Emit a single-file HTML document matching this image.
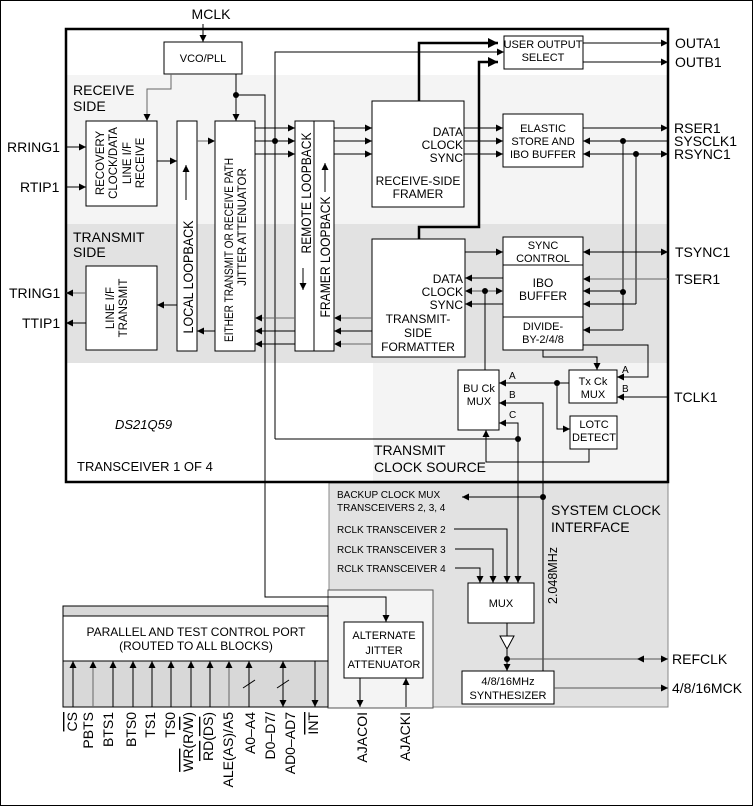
<!DOCTYPE html>
<html><head><meta charset="utf-8"><style>
html,body{margin:0;padding:0;background:#fff}
svg{display:block;font-family:"Liberation Sans",Arial,sans-serif}
</style></head><body>
<svg width="753" height="806" viewBox="0 0 753 806" xmlns="http://www.w3.org/2000/svg">
<defs>
<marker id="a" markerUnits="userSpaceOnUse" markerWidth="8" markerHeight="8" refX="7" refY="3.5" orient="auto-start-reverse"><path d="M0,0 L7,3.5 L0,7 z" fill="#000"/></marker>
<marker id="b" markerUnits="userSpaceOnUse" markerWidth="12" markerHeight="12" refX="10" refY="5" orient="auto"><path d="M0,0 L10,5 L0,10 z" fill="#000"/></marker>
</defs>
<rect x="0.5" y="0.5" width="752" height="805" fill="#fff" stroke="#000"/>
<rect x="67" y="75" width="600" height="149" fill="#f4f4f4"/>
<rect x="67" y="224" width="600" height="139" fill="#e2e2e2"/>
<rect x="373" y="363" width="294" height="118" fill="#f4f4f4"/>
<rect x="329" y="483" width="339" height="224" fill="#e2e2e2" stroke="#888"/>
<rect x="328" y="590" width="105" height="118" fill="#f4f4f4" stroke="#555"/>
<rect x="63" y="606" width="265" height="101" fill="#d8d8d8" stroke="#000"/>
<rect x="63" y="616" width="265" height="45" fill="#fff" stroke="#000"/>
<rect x="66" y="29" width="602" height="453" fill="none" stroke="#000" stroke-width="2.5"/>

<g fill="#fff" stroke="#000" stroke-width="1">
<rect x="164" y="42" width="78" height="32"/>
<rect x="86" y="121" width="71" height="85"/>
<rect x="177" y="121" width="20" height="230"/>
<rect x="215" y="121" width="40" height="230"/>
<rect x="295" y="121" width="19" height="230"/>
<rect x="314" y="121" width="20" height="230"/>
<rect x="372" y="101" width="92" height="106"/>
<rect x="504" y="36" width="79" height="33"/>
<rect x="503" y="114" width="80" height="53"/>
<rect x="372" y="239" width="93" height="118"/>
<rect x="503" y="237" width="80" height="28"/>
<rect x="503" y="265" width="80" height="52"/>
<rect x="503" y="317" width="80" height="33"/>
<rect x="86" y="266" width="71" height="84"/>
<rect x="569" y="370" width="48" height="33"/>
<rect x="458" y="370" width="41" height="60"/>
<rect x="570" y="416" width="47" height="33"/>
<rect x="468" y="583" width="66" height="40"/>
<rect x="462" y="671" width="92" height="33"/>
<rect x="344" y="622" width="79" height="56"/>
</g>

<g stroke="#000" stroke-width="1" fill="none">
<line x1="203" y1="24" x2="203" y2="42" marker-end="url(#a)"/>
<polyline points="171,74 171,89 147,89 147,121" stroke="#666" marker-end="url(#a)"/>
<line x1="236" y1="74" x2="236" y2="121" marker-end="url(#a)"/>
<polyline points="236,95 265,95 265,597 386,597 386,622" marker-end="url(#a)"/>
<polyline points="275,439 275,52 504,52" marker-end="url(#a)"/>
<line x1="275" y1="439" x2="518" y2="439"/>
<line x1="66" y1="147" x2="86" y2="147" marker-end="url(#a)"/>
<line x1="66" y1="187" x2="86" y2="187" marker-end="url(#a)"/>
<line x1="157" y1="161" x2="177" y2="161" marker-end="url(#a)"/>
<line x1="197" y1="141" x2="215" y2="141" stroke="#666" marker-end="url(#a)"/>
<line x1="255" y1="128" x2="295" y2="128" marker-end="url(#a)"/>
<line x1="255" y1="141" x2="295" y2="141" marker-end="url(#a)"/>
<line x1="255" y1="154" x2="295" y2="154" marker-end="url(#a)"/>
<line x1="334" y1="128" x2="372" y2="128" marker-end="url(#a)"/>
<line x1="334" y1="141" x2="372" y2="141" marker-end="url(#a)"/>
<line x1="334" y1="154" x2="372" y2="154" marker-end="url(#a)"/>
<line x1="464" y1="128" x2="503" y2="128" marker-end="url(#a)"/>
<line x1="464" y1="141" x2="503" y2="141" marker-end="url(#a)"/>
<line x1="464" y1="154" x2="503" y2="154" marker-end="url(#a)"/>
<line x1="583" y1="128" x2="668" y2="128" marker-end="url(#a)"/>
<line x1="668" y1="141" x2="583" y2="141" marker-end="url(#a)"/>
<line x1="583" y1="154" x2="668" y2="154" marker-start="url(#a)" marker-end="url(#a)"/>
<line x1="583" y1="43" x2="668" y2="43" marker-end="url(#a)"/>
<line x1="583" y1="62" x2="668" y2="62" marker-end="url(#a)"/>
<line x1="623" y1="141" x2="623" y2="330"/>
<line x1="636" y1="154" x2="636" y2="304"/>
<line x1="465" y1="252" x2="503" y2="252" marker-end="url(#a)"/>
<line x1="583" y1="252" x2="668" y2="252" marker-start="url(#a)" marker-end="url(#a)"/>
<line x1="668" y1="279" x2="583" y2="279" stroke="#666" marker-end="url(#a)"/>
<line x1="503" y1="278" x2="465" y2="278" marker-end="url(#a)"/>
<line x1="465" y1="291" x2="503" y2="291" marker-start="url(#a)" marker-end="url(#a)" stroke="#555"/>
<line x1="503" y1="304" x2="465" y2="304" marker-end="url(#a)"/>
<line x1="623" y1="291" x2="583" y2="291" marker-end="url(#a)"/>
<line x1="636" y1="304" x2="583" y2="304" marker-end="url(#a)"/>
<line x1="623" y1="330" x2="583" y2="330" marker-end="url(#a)"/>
<line x1="485" y1="291" x2="485" y2="370"/>
<line x1="372" y1="318" x2="334" y2="318" stroke="#666" marker-end="url(#a)"/>
<line x1="372" y1="331" x2="334" y2="331" marker-end="url(#a)"/>
<line x1="372" y1="344" x2="334" y2="344" stroke="#666" marker-end="url(#a)"/>
<line x1="295" y1="318" x2="255" y2="318" stroke="#666" marker-end="url(#a)"/>
<line x1="295" y1="331" x2="255" y2="331" marker-end="url(#a)"/>
<line x1="295" y1="344" x2="255" y2="344" marker-end="url(#a)"/>
<line x1="215" y1="331" x2="197" y2="331" marker-end="url(#a)"/>
<line x1="177" y1="305" x2="157" y2="305" marker-end="url(#a)"/>
<line x1="86" y1="293" x2="66" y2="293" stroke="#666" marker-end="url(#a)"/>
<line x1="86" y1="323" x2="66" y2="323" marker-end="url(#a)"/>
<polyline points="543,350 543,357 597,357 597,370" marker-end="url(#a)"/>
<polyline points="583,345 648,345 648,377 617,377" marker-end="url(#a)"/>
<line x1="668" y1="397" x2="617" y2="397" marker-end="url(#a)"/>
<line x1="569" y1="383" x2="499" y2="383" marker-end="url(#a)"/>
<polyline points="557,383 557,429 570,429" marker-end="url(#a)"/>
<polyline points="589,449 589,462 486,462 486,430" marker-end="url(#a)"/>
<polyline points="543,671 543,403 499,403" marker-end="url(#a)"/>
<polyline points="518,583 518,423 499,423" marker-end="url(#a)"/>
<line x1="518" y1="439" x2="518" y2="583" marker-end="url(#a)"/>
<line x1="543" y1="497" x2="462" y2="497" marker-end="url(#a)"/>
<polyline points="454,529 507,529 507,583" marker-end="url(#a)"/>
<polyline points="455,549 493,549 493,583" marker-end="url(#a)"/>
<polyline points="455,568 480,568 480,583" marker-end="url(#a)"/>
<line x1="507" y1="623" x2="507" y2="636"/>
<polygon points="500,636 514,636 507,649" fill="#fff"/>
<line x1="507" y1="649" x2="507" y2="671" marker-end="url(#a)"/>
<line x1="507" y1="659" x2="668" y2="659" stroke="#555" marker-end="url(#a)"/>
<path d="M637,659 l7,-3.5 v7 z" fill="#000" stroke="none"/>
<line x1="554" y1="688" x2="668" y2="688" stroke="#555" marker-end="url(#a)"/>
<line x1="360" y1="678" x2="360" y2="707" marker-end="url(#a)"/>
<line x1="406" y1="707" x2="406" y2="678" marker-end="url(#a)"/>
<g>
<line x1="73" y1="707" x2="73" y2="661" marker-end="url(#a)"/>
<line x1="93" y1="707" x2="93" y2="661" stroke="#666" marker-end="url(#a)"/>
<line x1="113" y1="707" x2="113" y2="661" marker-end="url(#a)"/>
<line x1="133" y1="707" x2="133" y2="661" marker-end="url(#a)"/>
<line x1="152" y1="707" x2="152" y2="661" marker-end="url(#a)"/>
<line x1="171" y1="707" x2="171" y2="661" marker-end="url(#a)"/>
<line x1="191" y1="707" x2="191" y2="661" marker-end="url(#a)"/>
<line x1="210" y1="707" x2="210" y2="661" marker-end="url(#a)"/>
<line x1="229" y1="707" x2="229" y2="661" stroke="#666" marker-end="url(#a)"/>
<line x1="249" y1="707" x2="249" y2="661" marker-end="url(#a)"/>
<line x1="283" y1="707" x2="283" y2="661" marker-start="url(#a)" marker-end="url(#a)"/>
<line x1="315" y1="661" x2="315" y2="707" marker-end="url(#a)"/>
<line x1="243" y1="688" x2="255" y2="680"/>
<line x1="277" y1="688" x2="289" y2="680"/>
</g>
</g>
<g stroke="#000" stroke-width="2.5" fill="none">
<polyline points="419,101 419,43 498,43" marker-end="url(#b)"/>
<polyline points="419,239 419,227 479,227 479,62 498,62" marker-end="url(#b)"/>
</g>
<g fill="#000">
<circle cx="236" cy="95" r="3"/><circle cx="275" cy="141" r="3"/>
<circle cx="623" cy="141" r="3"/><circle cx="636" cy="154" r="3"/>
<circle cx="623" cy="292" r="3"/><circle cx="485" cy="291" r="3"/>
<circle cx="557" cy="383" r="3"/><circle cx="518" cy="439" r="3"/>
<circle cx="543" cy="497" r="3"/><circle cx="507" cy="659" r="3"/>
</g>
<g stroke="#000" fill="none">
<line x1="186" y1="200" x2="186" y2="165" marker-end="url(#a)"/>
<line x1="303" y1="268" x2="303" y2="290" marker-end="url(#a)"/>
<line x1="325" y1="192" x2="325" y2="163" marker-end="url(#a)"/>
</g>

<g font-size="14" fill="#000">
<text x="211" y="19" text-anchor="middle">MCLK</text>
<text x="73" y="95">RECEIVE</text><text x="73" y="111">SIDE</text>
<text x="73" y="242">TRANSMIT</text><text x="73" y="257">SIDE</text>
<text x="7" y="152">RRING1</text><text x="20" y="192">RTIP1</text>
<text x="9" y="298">TRING1</text><text x="22" y="328">TTIP1</text>
<text x="675" y="48">OUTA1</text><text x="675" y="67">OUTB1</text>
<text x="674" y="133">RSER1</text><text x="674" y="146">SYSCLK1</text><text x="674" y="159">RSYNC1</text>
<text x="675" y="257">TSYNC1</text><text x="675" y="284">TSER1</text>
<text x="674" y="402">TCLK1</text>
<text x="374" y="455">TRANSMIT</text><text x="374" y="472">CLOCK SOURCE</text>
<text x="551" y="515">SYSTEM CLOCK</text><text x="551" y="532">INTERFACE</text>
<text x="672" y="664">REFCLK</text><text x="672" y="693">4/8/16MCK</text>
</g>
<g font-size="13" fill="#000">
<text x="115" y="429" font-style="italic">DS21Q59</text>
<text x="77" y="471">TRANSCEIVER 1 OF 4</text>
</g>
<g font-size="11" fill="#000" text-anchor="middle">
<text x="203" y="62">VCO/PLL</text>
<text x="543" y="48">USER OUTPUT</text><text x="543" y="61">SELECT</text>
<text x="543" y="132">ELASTIC</text><text x="543" y="145">STORE AND</text><text x="543" y="158">IBO BUFFER</text>
<text x="543" y="249">SYNC</text><text x="543" y="262">CONTROL</text>
<text x="543" y="287" font-size="12">IBO</text><text x="543" y="300" font-size="12">BUFFER</text>
<text x="543" y="330">DIVIDE-</text><text x="543" y="343">BY-2/4/8</text>
<text x="593" y="385">Tx Ck</text><text x="593" y="398">MUX</text>
<text x="479" y="392">BU Ck</text><text x="479" y="405">MUX</text>
<text x="594" y="428">LOTC</text><text x="594" y="441">DETECT</text>
<text x="501" y="607">MUX</text>
<text x="508" y="685">4/8/16MHz</text><text x="508" y="699">SYNTHESIZER</text>
<text x="384" y="639">ALTERNATE</text><text x="384" y="654">JITTER</text><text x="384" y="668">ATTENUATOR</text>
</g>
<g font-size="12" fill="#000">
<text x="418" y="185" text-anchor="middle">RECEIVE-SIDE</text><text x="418" y="198" text-anchor="middle">FRAMER</text>
<text x="463" y="136" text-anchor="end">DATA</text><text x="463" y="149" text-anchor="end">CLOCK</text><text x="463" y="162" text-anchor="end">SYNC</text>
<text x="463" y="283" text-anchor="end">DATA</text><text x="463" y="296" text-anchor="end">CLOCK</text><text x="463" y="309" text-anchor="end">SYNC</text>
<text x="418" y="323" text-anchor="middle">TRANSMIT-</text><text x="418" y="337" text-anchor="middle">SIDE</text><text x="418" y="351" text-anchor="middle">FORMATTER</text>
<text x="196" y="636" text-anchor="middle">PARALLEL AND TEST CONTROL PORT</text>
<text x="196" y="650" text-anchor="middle">(ROUTED TO ALL BLOCKS)</text>
</g>
<g font-size="10" fill="#000">
<text x="337" y="498">BACKUP CLOCK MUX</text><text x="337" y="511">TRANSCEIVERS 2, 3, 4</text>
<text x="337" y="533">RCLK TRANSCEIVER 2</text>
<text x="337" y="553">RCLK TRANSCEIVER 3</text>
<text x="337" y="572">RCLK TRANSCEIVER 4</text>
<text x="509" y="379">A</text><text x="509" y="398">B</text><text x="509" y="418">C</text>
<text x="622" y="373">A</text><text x="622" y="392">B</text>
</g>
<g font-size="11.5" fill="#000" text-anchor="middle">
<text transform="translate(104,163) rotate(-90)">RECOVERY</text>
<text transform="translate(117,163) rotate(-90)">CLOCK/DATA</text>
<text transform="translate(131,163) rotate(-90)">LINE I/F</text>
<text transform="translate(144,163) rotate(-90)">RECEIVE</text>
<text transform="translate(114,308) rotate(-90)">LINE I/F</text>
<text transform="translate(127,308) rotate(-90)">TRANSMIT</text>
<text transform="translate(233,250) rotate(-90)" textLength="184" lengthAdjust="spacingAndGlyphs">EITHER TRANSMIT OR RECEIVE PATH</text>
<text transform="translate(246,227) rotate(-90)">JITTER ATTENUATOR</text>
</g>
<g font-size="13.5" fill="#000" text-anchor="middle">
<text transform="translate(193,277) rotate(-90)" textLength="113" lengthAdjust="spacingAndGlyphs">LOCAL LOOPBACK</text>
<text transform="translate(311,193) rotate(-90)" textLength="121" lengthAdjust="spacingAndGlyphs">REMOTE LOOPBACK</text>
<text transform="translate(330,257) rotate(-90)" textLength="121" lengthAdjust="spacingAndGlyphs">FRAMER LOOPBACK</text>
</g>
<text transform="translate(557,604) rotate(-90)" font-size="12.5">2.048MHz</text>
<g font-size="14" fill="#000" text-anchor="end">
<text transform="translate(77,712) rotate(-90)"><tspan text-decoration="overline">CS</tspan></text>
<text transform="translate(93,712) rotate(-90)">PBTS</text>
<text transform="translate(113,712) rotate(-90)">BTS1</text>
<text transform="translate(136,712) rotate(-90)">BTS0</text>
<text transform="translate(155,712) rotate(-90)">TS1</text>
<text transform="translate(175,712) rotate(-90)">TS0</text>
<text transform="translate(193,712) rotate(-90)"><tspan text-decoration="overline">WR</tspan>(R/<tspan text-decoration="overline">W</tspan>)</text>
<text transform="translate(213,712) rotate(-90)"><tspan text-decoration="overline">RD</tspan>(<tspan text-decoration="overline">DS</tspan>)</text>
<text transform="translate(233,712) rotate(-90)">ALE(AS)/A5</text>
<text transform="translate(255,712) rotate(-90)">A0–A4</text>
<text transform="translate(275,712) rotate(-90)">D0–D7/</text>
<text transform="translate(295,712) rotate(-90)">AD0–AD7</text>
<text transform="translate(318,712) rotate(-90)"><tspan text-decoration="overline">INT</tspan></text>
<text transform="translate(367,712) rotate(-90)">AJACOI</text>
<text transform="translate(410,712) rotate(-90)">AJACKI</text>
</g>
</svg>
</body></html>
